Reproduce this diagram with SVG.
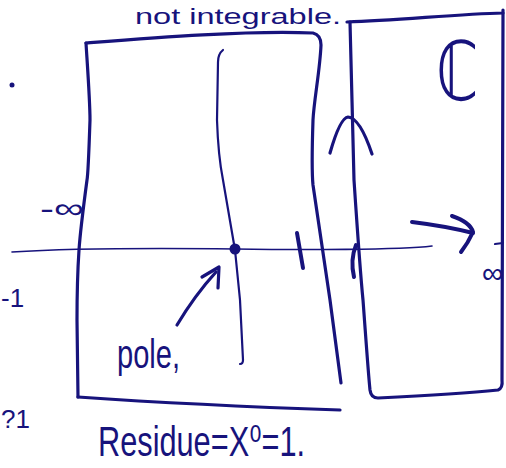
<svg xmlns="http://www.w3.org/2000/svg" width="506" height="468" viewBox="0 0 506 468">
<style>
.s{fill:none;stroke:#17137c;stroke-linecap:round;stroke-linejoin:round}
.b{stroke-width:3.2}
.m{stroke-width:2.2}
.t{stroke-width:1.6}
.k{stroke-width:4}
.tx{fill:#17137c;font-family:"Liberation Sans","DejaVu Sans",sans-serif}
</style>
<rect width="506" height="468" fill="#ffffff"/>
<g id="left-box">
<path class="s b" d="M86,43 C150,38 250,30 313,33 Q321,35 321,45 C320,70 314,100 313,120 C312,150 312,175 313,185 L330,300 L341,383"/>
<path class="s b" d="M86,43 C87,60 90,100 90,120 C89,150 88,175 87,180 C83,210 80,235 79,250 C77,280 77,300 77,320 L78,397"/>
<path class="s b" d="M78,397 C150,402 250,407 340,410"/>
</g>
<g id="right-box">
<path class="s b" d="M347,22 C400,20 460,14 503,13 L503,10"/>
<path class="s b" d="M350,22 C351,60 353,140 354,180 C358,240 361,280 363,300 C366,340 368,370 370,390 Q371,398 378,398 C420,396 470,393 498,390 Q503,388 502,380 L503,13"/>
<path class="s m" d="M495,244 L503,243"/>
</g>
<g id="axes">
<path class="s t" d="M12,252 C60,249 150,248 235,249 C300,250 400,250 432,246"/>
<path class="s m" d="M223,50 Q218,54 218,62 L217,120 C218,150 221,170 223,180 L235,250 L240,300 L243,360 Q243,364 240,364"/>
<circle cx="235" cy="249" r="5.5" fill="#17137c"/>
<path class="s k" d="M297,233 L303,268"/>
<path class="s k" d="M356,245 Q350,260 354,277"/>
<path class="s b" d="M330,153 Q340,118 348,117 Q360,118 372,154"/>
<circle cx="12" cy="85" r="2.5" fill="#17137c"/>
</g>
<g id="connectors">
<path class="s k" d="M412,222 Q445,226 473,233"/>
<path class="s k" d="M452,216 Q470,222 473,232 Q468,243 461,252"/>
<path class="s b" d="M177,325 Q195,295 216,272"/>
<path class="s b" d="M202,277 L219,267 L218,288"/>
</g>
<g id="labels">
<text class="tx" x="135" y="24" font-size="22" textLength="206" lengthAdjust="spacingAndGlyphs">not integrable.</text>
<text class="tx" x="40" y="218" font-size="28" textLength="44" lengthAdjust="spacingAndGlyphs">-∞</text>
<text class="tx" x="482" y="283" font-size="30">∞</text>
<text class="tx" x="1" y="307" font-size="26">-1</text>
<text class="tx" x="1" y="428" font-size="26">?1</text>
<text class="tx" x="436" y="100" font-size="82" textLength="42" lengthAdjust="spacingAndGlyphs" style="font-family:'DejaVu Sans',sans-serif">ℂ</text>
<text class="tx" x="117" y="368" font-size="40" textLength="63" lengthAdjust="spacingAndGlyphs">pole,</text>
<text class="tx" x="98" y="456" font-size="42" textLength="207" lengthAdjust="spacingAndGlyphs">Residue=X⁰=1.</text>
</g>
</svg>
